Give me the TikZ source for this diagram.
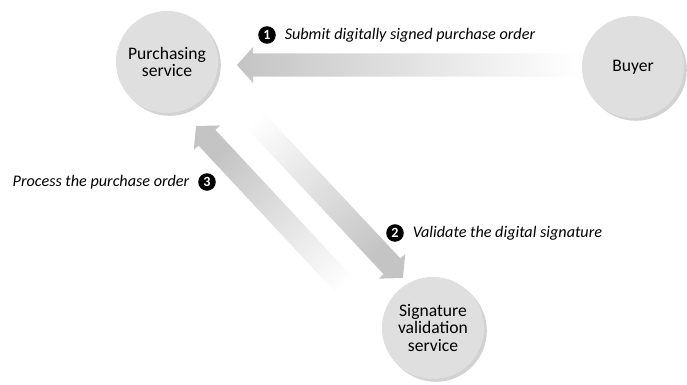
\documentclass[tikz,border=0pt]{standalone}
\usepackage{fontspec}
\setmainfont{Carlito}
\usetikzlibrary{positioning, shadows, calc}
\definecolor{servicegray}{RGB}{223, 223, 223}
\definecolor{arrowgray}{RGB}{196, 196, 196}
\tikzset{
    % Service circles
    service/.style={
        circle, fill=servicegray, minimum size=2.55cm, inner sep=0pt,
        align=center, font=\fontsize{12.5}{12.5}\selectfont,
        drop shadow={shadow xshift=2pt, shadow yshift=-2pt, fill=gray!70, opacity=0.5}
    },
    % Step numbers
    stepnum/.style={
        circle, fill=black, text=white, minimum size=12.5pt, inner sep=0pt,
        font=\bfseries\fontsize{10}{10}\selectfont
    },
    % Step labels
    steplabel/.style={
        font=\itshape\fontsize{11.5}{11.5}\selectfont, inner sep=0pt
    }
}
% Fat shaded arrow from tail (#1) to tip (#2)
\newcommand{\fatarrow}[2]{%
    \path let \p1=($(#2)-(#1)$), \n1={atan2(\y1,\x1)}, \n2={veclen(\x1,\y1)} in
        \pgfextra{\xdef\arrang{\n1}\xdef\arrlen{\n2}};
    \begin{scope}[shift={(#1)}, rotate=\arrang]
        \shade[left color=white, right color=arrowgray, shading angle=90+\arrang]
            (0pt,-8.2pt) -- (\arrlen-11.4pt,-8.2pt) -- (\arrlen-11.4pt,-12.8pt)
            -- (\arrlen,0pt) -- (\arrlen-11.4pt,12.8pt) -- (\arrlen-11.4pt,8.2pt)
            -- (0pt,8.2pt) -- cycle;
    \end{scope}
}

\begin{document}
\begin{tikzpicture}[x=0.025cm, y=0.025cm]
    \useasboundingbox (0,0) rectangle (687,385);

    % Services
    \node[service] (P) at (167,323) {Purchasing\\service};
    \node[service] (B) at (633,318) {Buyer};
    \node[service] (S) at (433,57) {Signature\\validation\\service};

    % Arrow end points
    \coordinate (a1tail) at ($(B)+(-55,2)$);
    \coordinate (a1tip) at ($(P)+(70,-3)$);
    \coordinate (a2tail) at ($(P)+(69,-38)$);
    \coordinate (a2tip) at ($(S)+(-30,50)$);
    \coordinate (a3tail) at ($(S)+(-70,23)$);
    \coordinate (a3tip) at ($(P)+(29,-64)$);

    % Message flow
    \fatarrow{a1tail}{a1tip}
    \fatarrow{a2tail}{a2tip}
    \fatarrow{a3tail}{a3tip}

    % Step 1
    \node[stepnum] (n1) at (267,350) {1};
    \node[steplabel, right=6pt of n1] (l1) {Submit digitally signed purchase order};

    % Step 2
    \node[stepnum] (n2) at (395,152) {2};
    \node[steplabel, right=6pt of n2] (l2) {Validate the digital signature};

    % Step 3
    \node[stepnum] (n3) at (207,203) {3};
    \node[steplabel, left=6pt of n3] (l3) {Process the purchase order};

\end{tikzpicture}
\end{document}
